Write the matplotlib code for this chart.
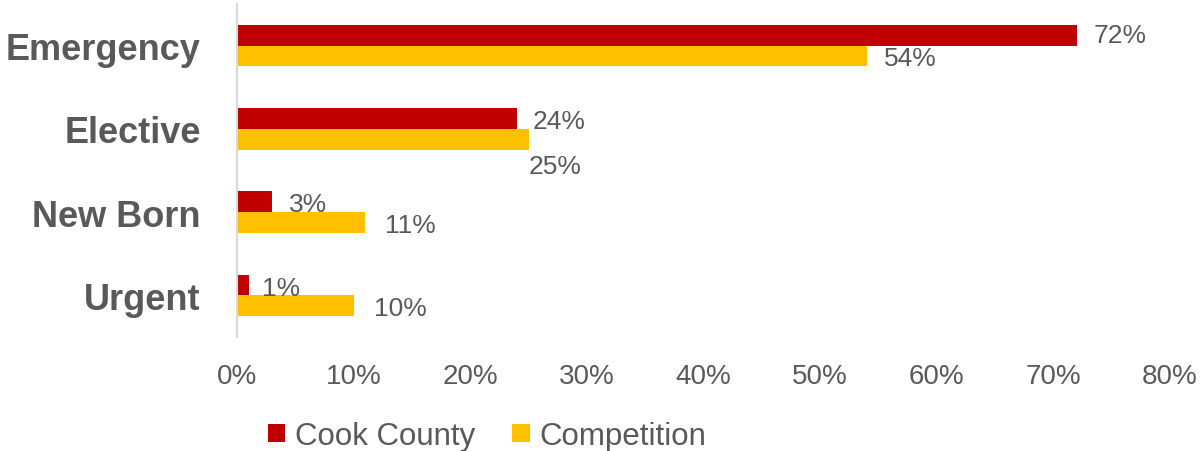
import matplotlib
matplotlib.use('Agg')
import matplotlib.pyplot as plt
from matplotlib import font_manager
import numpy as np

# ==========================================
# Data
# ==========================================
categories = ['Emergency', 'Elective', 'New Born', 'Urgent']
cook_county = [72, 24, 3, 1]
competition = [54, 25, 11, 10]
series_names = ['Cook County', 'Competition']
x_ticks = [0, 10, 20, 30, 40, 50, 60, 70, 80]

# label offsets (px right, px down) from bar end, as placed in the original
cook_offsets = [(17, 0), (16, 3), (17, 2), (13, 3)]
comp_offsets = [(17, 2), (0, 27), (20, 2), (20, 2)]

# ==========================================
# Style
# ==========================================
names = {f.name for f in font_manager.fontManager.ttflist}
font = 'Liberation Sans Narrow' if 'Liberation Sans Narrow' in names else 'Liberation Sans'
plt.rcParams['font.family'] = [font, 'DejaVu Sans']

RED = '#C00000'
GOLD = '#FFC000'
GRAY = '#595959'
PX = 0.72  # points per pixel at dpi 100

fig = plt.figure(figsize=(12.04, 4.52), dpi=100)
ax = fig.add_axes([237 / 1204, 1 - 338 / 452, (1170 - 237) / 1204, 333 / 452])

y = np.arange(len(categories))
h = 0.25
ax.barh(y - h / 2, cook_county, height=h, color=RED, label=series_names[0])
ax.barh(y + h / 2, competition, height=h, color=GOLD, label=series_names[1])

# value labels
for i in range(len(categories)):
    for val, yy, off in [(cook_county[i], y[i] - h / 2, cook_offsets[i]),
                         (competition[i], y[i] + h / 2, comp_offsets[i])]:
        ax.annotate(f'{val}%', xy=(val, yy), xytext=(off[0] * PX, -off[1] * PX),
                    textcoords='offset points', ha='left', va='center',
                    fontsize=19, color=GRAY)

ax.set_xlim(0, 80)
ax.set_ylim(len(categories) - 0.5, -0.5)
ax.set_xticks(x_ticks)
ax.set_xticklabels([f'{t}%' for t in x_ticks], fontsize=20, color=GRAY)
ax.set_yticks(y)
ax.set_yticklabels(categories, fontsize=26, fontweight='bold', color=GRAY)
ax.tick_params(axis='both', length=0)
ax.tick_params(axis='x', pad=19)
ax.tick_params(axis='y', pad=26)

for s in ['top', 'right', 'bottom']:
    ax.spines[s].set_visible(False)
ax.spines['left'].set_color('#D9D9D9')
ax.spines['left'].set_linewidth(1.5)

fig.legend(loc='center', bbox_to_anchor=(487 / 1204, 1 - 437 / 452), ncol=2,
           frameon=False, fontsize=22.5, handlelength=0.55, handleheight=0.55,
           handletextpad=0.3, columnspacing=1.2, labelcolor=GRAY)

fig.savefig('out.png', dpi=100)
